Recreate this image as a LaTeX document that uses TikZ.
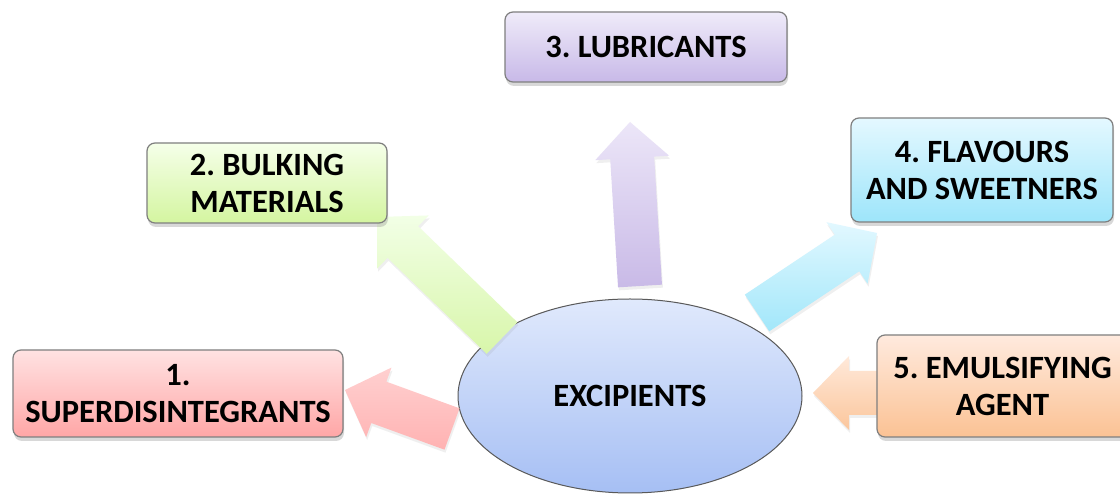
\documentclass[tikz,border=0pt]{standalone}
\usepackage{fontspec}
\setmainfont{Carlito}
\frenchspacing
\usetikzlibrary{shapes.geometric,shadows,calc}
\definecolor{boxborder}{HTML}{7F7F7F}
\definecolor{pinkT}{HTML}{FFE2E2}\definecolor{pinkB}{HTML}{FFA6A6}
\definecolor{greenT}{HTML}{F5FFE9}\definecolor{greenB}{HTML}{D4F5A0}
\definecolor{purpT}{HTML}{EFEBF9}\definecolor{purpB}{HTML}{C8B9E8}
\definecolor{cyanT}{HTML}{E4F8FF}\definecolor{cyanB}{HTML}{9DE5FA}
\definecolor{orT}{HTML}{FFEADE}\definecolor{orB}{HTML}{FBC294}
\definecolor{ellT}{HTML}{E0E9FC}\definecolor{ellB}{HTML}{A6BFF4}
\definecolor{apinkT}{HTML}{FFD0D0}\definecolor{apinkB}{HTML}{FFB2B2}
\definecolor{agreenT}{HTML}{F2FFE6}\definecolor{agreenB}{HTML}{D8F6AA}
\definecolor{apurpT}{HTML}{ECE6F8}\definecolor{apurpB}{HTML}{C9BAE7}
\definecolor{acyanT}{HTML}{E2F8FF}\definecolor{acyanB}{HTML}{A2E7FA}
\definecolor{aorT}{HTML}{FFE9DA}\definecolor{aorB}{HTML}{FBC69C}
\tikzset{
  txt/.style={font=\fontsize{32.5}{37}\selectfont\bfseries, align=center},
  box/.style={txt, draw=boxborder, line width=1.2pt, rounded corners=8pt, inner sep=0pt,
    drop shadow={opacity=0.3, shadow xshift=1pt, shadow yshift=-4pt}},
  arrshadow/.style={drop shadow={opacity=0.12, shadow xshift=1pt, shadow yshift=-3pt}}
}
\newcommand\blockarrow[4]{%
  \coordinate (#1-h) at ($(#2)!36pt!(#1)$);
  \path[top color=#3, bottom color=#4, arrshadow]
    ($(#1)!22pt!90:(#2)$) -- ($(#1-h)!22pt!90:(#2)$) -- ($(#1-h)!37pt!90:(#2)$)
    -- (#2) -- ($(#1-h)!37pt!-90:(#2)$) -- ($(#1-h)!22pt!-90:(#2)$)
    -- ($(#1)!22pt!-90:(#2)$) -- cycle;}
\begin{document}
\begin{tikzpicture}[x=1pt,y=1pt]
\clip (0,0) rectangle (1120,495);
\fill[white] (0,0) rectangle (1120,495);
% centre
\node[ellipse, draw=black!65, line width=1pt, top color=ellT, bottom color=ellB,
  minimum width=344, minimum height=194, inner sep=0pt, txt] (exc) at (630,99) {EXCIPIENTS};
% arrow end points
\coordinate (t1) at (452,66);  \coordinate (p1) at (345,105);
\coordinate (t2) at (502,157); \coordinate (p2) at (377,278);
\coordinate (t3) at (640,209); \coordinate (p3) at (630,373);
\coordinate (t4) at (757,182); \coordinate (p4) at (877,262);
\coordinate (t5) at (905,102); \coordinate (p5) at (813,102);
\blockarrow{t1}{p1}{apinkT}{apinkB}
\blockarrow{t2}{p2}{agreenT}{agreenB}
\blockarrow{t3}{p3}{apurpT}{apurpB}
\blockarrow{t4}{p4}{acyanT}{acyanB}
\blockarrow{t5}{p5}{aorT}{aorB}
% boxes
\node[box, top color=pinkT, bottom color=pinkB, minimum width=330, minimum height=87] (b1) at (178,101.5) {1.\\SUPERDISINTEGRANTS};
\node[box, top color=greenT, bottom color=greenB, minimum width=240, minimum height=80] (b2) at (267,312) {2. BULKING\\MATERIALS};
\node[box, top color=purpT, bottom color=purpB, minimum width=282, minimum height=70] (b3) at (646,448) {3. LUBRICANTS};
\node[box, top color=cyanT, bottom color=cyanB, minimum width=262, minimum height=104] (b4) at (982,325) {4. FLAVOURS\\AND SWEETNERS};
\node[box, top color=orT, bottom color=orB, minimum width=251, minimum height=102] (b5) at (1002.5,109) {5. EMULSIFYING\\AGENT};
\end{tikzpicture}
\end{document}
